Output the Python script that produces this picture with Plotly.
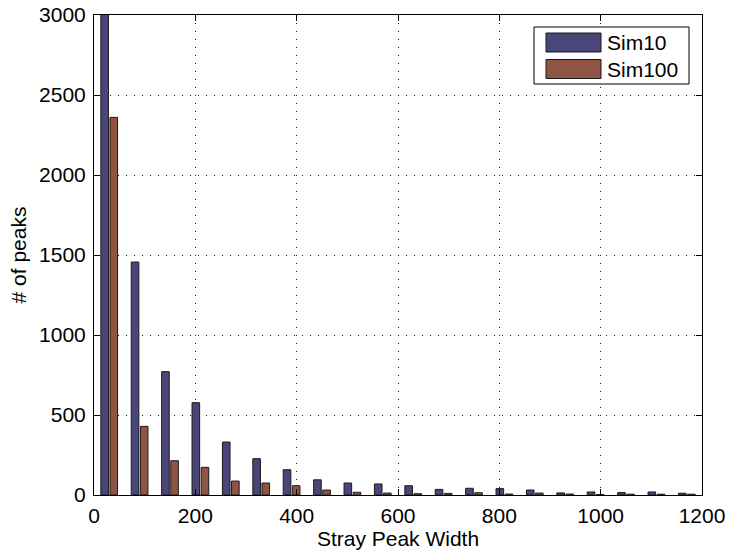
import plotly.graph_objects as go

# Data (histogram bin centers, width 60)
bin_centers = [30, 90, 150, 210, 270, 330, 390, 450, 510, 570,
               630, 690, 750, 810, 870, 930, 990, 1050, 1110, 1170]
sim10 = [3350, 1456, 771, 577, 331, 227, 158, 95, 75, 69,
         58, 35, 42, 40, 31, 13, 19, 15, 19, 11]
sim100 = [2360, 429, 214, 173, 87, 75, 58, 31, 17, 12,
          8, 10, 14, 6, 12, 6, 3, 5, 5, 5]
series_names = ["Sim10", "Sim100"]
colors = ["#4A4679", "#8F5443"]
x_ticks = [0, 200, 400, 600, 800, 1000, 1200]
y_ticks = [0, 500, 1000, 1500, 2000, 2500, 3000]

FONT = "Liberation Sans, Arial, Helvetica, sans-serif"

fig = go.Figure()
fig.add_trace(go.Bar(x=bin_centers, y=sim10, name=series_names[0],
                     width=15, offset=-16.5,
                     marker=dict(color=colors[0], line=dict(color="#1a1a1a", width=1)),
                     showlegend=False))
fig.add_trace(go.Bar(x=bin_centers, y=sim100, name=series_names[1],
                     width=15, offset=1.5,
                     marker=dict(color=colors[1], line=dict(color="#1a1a1a", width=1)),
                     showlegend=False))

W, H = 730, 551
# plot area in window pixels
L, R, T, B = 94, 702, 15, 495

def px(x):
    return (x - L) / (R - L)
def py(y):
    return (B - y) / (B - T)

# Manual MATLAB-style legend
shapes = [dict(type="rect", xref="paper", yref="paper",
               x0=px(534), x1=px(689), y0=py(84), y1=py(27),
               line=dict(color="black", width=1), fillcolor="white", layer="above")]
annotations = []
for i, (name, c) in enumerate(zip(series_names, colors)):
    yt = 33 + i * 26.5
    shapes.append(dict(type="rect", xref="paper", yref="paper",
                       x0=px(546), x1=px(601), y0=py(yt + 19), y1=py(yt),
                       line=dict(color="#1a1a1a", width=1), fillcolor=c, layer="above"))
    annotations.append(dict(xref="paper", yref="paper", x=px(605), y=py(yt + 9.5),
                            text=name, showarrow=False, xanchor="left", yanchor="middle",
                            font=dict(family=FONT, size=21, color="black")))

axis_common = dict(showline=True, linecolor="black", linewidth=1, mirror="ticks",
                   ticks="inside", ticklen=6, tickcolor="black",
                   showgrid=True, gridcolor="#222222", gridwidth=1, griddash="1px,7px",
                   zeroline=False, automargin=False, ticklabeloverflow="allow",
                   tickfont=dict(family=FONT, size=21, color="black"))

fig.update_layout(
    width=W, height=H,
    margin=dict(l=L, r=W - R, t=T, b=H - B),
    paper_bgcolor="white", plot_bgcolor="white",
    barmode="overlay",
    shapes=shapes, annotations=annotations,
    xaxis=dict(range=[0, 1200], tickvals=x_ticks, ticklabelstandoff=2,
               title=dict(text="Stray Peak Width", font=dict(family=FONT, size=21, color="black"),
                          standoff=1),
               **axis_common),
    yaxis=dict(range=[0, 3000], tickvals=y_ticks, ticklabelstandoff=3,
               title=dict(text="# of peaks", font=dict(family=FONT, size=21, color="black"),
                          standoff=6),
               **axis_common),
)

# remove the default 8px page margin so the figure sits at the window's top-left corner
fig.write_html("out.html", config={"displayModeBar": False},
               post_script="document.body.style.margin='0px';")
